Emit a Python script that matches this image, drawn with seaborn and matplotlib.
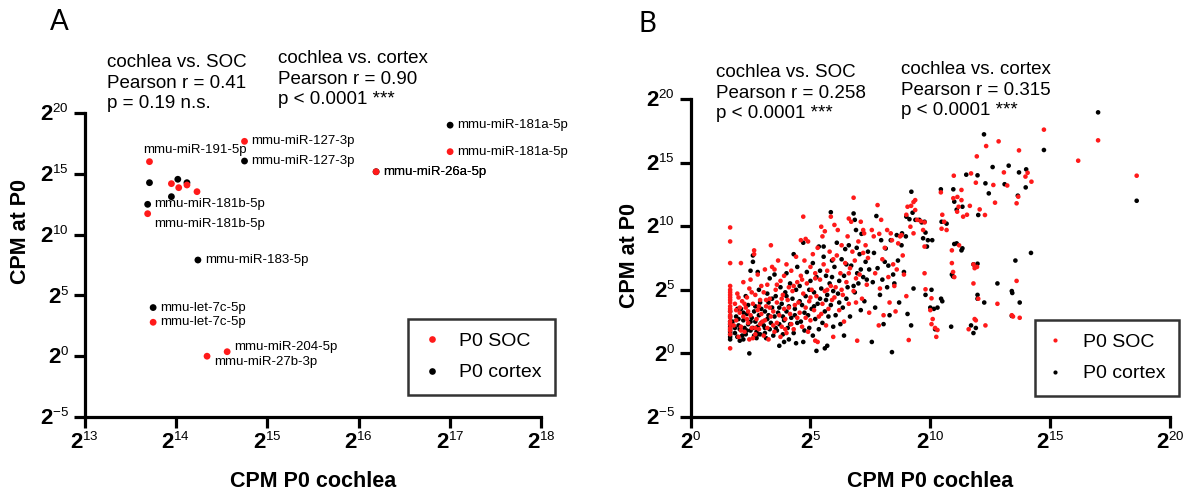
import pandas as pd
import seaborn as sns
import matplotlib.pyplot as plt
import matplotlib.ticker as mticker
from matplotlib.lines import Line2D

try:
    import matplotlib._mathtext as _mt
    _mt.SHRINK_FACTOR = 0.6   # smaller superscripts, like the original
except Exception:
    pass

# ---------------- panel A: selected miRNAs (log2 CPM) ----------------
a_soc_names = ['mmu-miR-181a-5p', 'mmu-miR-127-3p', 'mmu-miR-26a-5p', 'mmu-miR-191-5p',
               '', '', '', '', 'mmu-miR-181b-5p', 'mmu-let-7c-5p',
               'mmu-miR-204-5p', 'mmu-miR-27b-3p']
a_soc_cochlea = [17.0, 14.75, 16.19, 13.71, 13.95, 14.03, 14.12, 14.23, 13.69, 13.75, 14.56, 14.34]
a_soc_p0 = [16.82, 17.67, 15.17, 16.0, 14.19, 13.86, 14.08, 13.53, 11.72, 2.79, 0.37, 0.0]

a_cortex_names = ['mmu-miR-181a-5p', 'mmu-miR-127-3p', 'mmu-miR-26a-5p', '', '', '', '',
                  'mmu-miR-181b-5p', 'mmu-miR-183-5p', 'mmu-let-7c-5p']
a_cortex_cochlea = [17.0, 14.75, 16.19, 13.71, 14.02, 14.12, 13.95, 13.69, 14.24, 13.75]
a_cortex_p0 = [19.0, 16.05, 15.17, 14.27, 14.55, 14.27, 13.12, 12.49, 7.91, 4.0]

# ---------------- panel B: all miRNAs (log2 cochlea CPM, log2 P0 CPM) ----------------
b_soc = [
    (1.65, 9.9), (1.65, 8.8), (1.65, 7.1), (1.65, 5.3), (1.65, 5.0), (1.65, 4.8), (1.65, 4.6),
    (1.65, 4.4), (1.65, 4.2), (1.65, 4.0), (1.65, 3.7), (1.65, 3.5), (1.65, 3.3), (1.65, 3.0),
    (1.65, 2.8), (1.65, 2.5), (1.65, 2.3), (1.65, 2.0), (1.65, 1.8), (1.65, 1.5), (1.65, 0.4),
    (1.85, 3.9), (1.9, 2.6), (1.95, 4.7), (2.0, 1.3), (2.05, 3.2), (2.1, 7.1), (2.1, 2.1),
    (2.15, 4.1), (2.2, 5.6), (2.2, 2.9), (2.25, 1.7), (2.3, 3.6), (2.35, 4.4), (2.4, 2.4),
    (2.45, 1.1), (2.45, 5.1), (2.5, 3.0), (2.5, 5.8), (2.55, 2.0), (2.6, 3.9), (2.65, 8.1),
    (2.65, 7.8), (2.7, 1.5), (2.7, 4.6), (2.75, 2.7), (2.8, 3.4), (2.8, 6.2), (2.85, 1.9),
    (2.9, 4.2), (2.9, 2.3), (2.95, 5.3), (2.95, 3.1), (2.6, 1.2), (2.35, 2.7), (2.05, 3.6),
    (1.8, 2.2), (1.9, 3.4), (2.0, 4.4), (2.1, 1.8), (2.25, 3.9), (2.4, 3.3), (2.55, 4.8),
    (2.7, 2.0), (2.85, 3.7), (3.0, 2.5),
    (3.05, 1.4), (3.05, 4.8), (3.1, 2.6), (3.1, 6.6), (3.15, 3.7), (3.2, 2.0), (3.2, 5.4),
    (3.25, 1.1), (3.3, 4.3), (3.35, 2.9), (3.35, 8.5), (3.4, 6.8), (3.45, 3.3), (3.5, 1.7),
    (3.5, 6.6), (3.55, 5.0), (3.6, 2.4), (3.6, 4.0), (3.65, 7.3), (3.7, 3.0), (3.75, 5.7),
    (3.75, 1.3), (3.8, 2.1), (3.85, 4.6), (3.9, 3.5), (3.9, 6.1), (3.95, 2.7), (4.0, 7.0),
    (4.0, 1.6), (4.05, 4.2), (4.1, 5.2), (4.15, 3.1), (4.2, 2.3), (4.2, 6.5), (4.25, 4.9),
    (4.3, 1.9), (4.35, 3.8), (4.4, 7.6), (4.45, 5.6), (4.45, 2.8),
    (3.15, 4.2), (3.3, 3.6), (3.45, 2.2), (3.6, 5.4), (3.8, 4.3), (3.95, 1.9), (4.1, 3.6),
    (4.3, 5.3),
    (4.55, 3.2), (4.6, 6.1), (4.6, 8.9), (4.65, 2.1), (4.7, 10.75), (4.7, 4.7), (4.75, 7.3),
    (4.8, 9.0), (4.8, 3.6), (4.85, 5.5), (4.9, 1.7), (4.9, 8.8), (4.95, 4.1), (5.0, 6.8),
    (5.0, 2.6), (5.05, 5.0), (5.1, 7.8), (5.15, 3.4), (5.2, 6.3), (5.2, 1.0), (5.25, 4.5),
    (5.3, 8.3), (5.35, 2.9), (5.4, 5.8), (5.45, 9.96), (5.5, 9.2), (5.5, 3.9), (5.55, 7.0),
    (5.6, 4.9), (5.6, 9.6), (5.65, 2.2), (5.7, 6.5), (5.75, 3.5), (5.8, 8.0), (5.85, 10.75),
    (5.85, 5.3), (5.9, 4.2), (5.95, 7.4), (5.95, 1.3), (5.3, 0.9),
    (4.5, 4.0), (4.65, 5.8), (4.8, 2.8), (5.0, 4.4), (5.2, 5.9), (5.45, 3.1), (5.7, 5.0),
    (6.0, 10.1), (6.05, 5.2), (6.1, 7.7), (6.14, 9.7), (6.2, 3.4), (6.25, 6.3), (6.3, 8.5),
    (6.35, 4.6), (6.4, 2.5), (6.45, 7.1), (6.5, 5.6), (6.55, 9.2), (6.6, 10.6), (6.6, 3.9),
    (6.65, 6.7), (6.7, 10.35), (6.75, 8.0), (6.8, 12.24), (6.8, 4.9), (6.85, 7.3), (6.9, 5.9),
    (6.95, 1.0), (7.0, 8.8), (7.05, 6.2), (7.1, 10.35), (7.15, 4.3), (7.2, 9.7), (7.24, 9.44),
    (7.3, 8.5), (7.35, 5.4), (7.4, 7.5), (7.45, 3.2),
    (6.0, 4.4), (6.3, 5.0), (6.6, 6.3), (6.9, 4.0), (7.2, 7.9),
    (7.56, 9.7), (7.64, 9.2), (7.7, 6.3), (7.8, 11.66), (7.85, 2.2), (7.87, 9.4), (7.9, 5.1),
    (7.95, 10.5), (8.0, 7.4), (8.05, 3.0), (8.1, 8.3), (8.2, 9.7), (8.25, 6.0), (8.3, 4.0),
    (8.35, 9.44), (8.4, 8.9), (8.45, 7.0), (8.5, 5.3), (8.55, 3.3), (8.6, 6.6), (8.66, 8.65),
    (8.74, 9.2), (8.8, 9.3), (8.85, 7.7), (8.9, 6.2), (9.0, 10.9), (9.05, 11.53), (9.1, 1.05),
    (9.2, 11.6), (9.17, 9.96), (9.3, 11.9), (9.37, 12.05), (9.3, 9.44), (9.37, 11.27),
    (9.45, 10.5), (9.0, 4.5),
    (9.6, 10.4), (9.7, 9.7), (9.76, 10.3), (9.76, 8.4), (9.76, 6.3), (9.8, 5.04), (10.05, 4.33),
    (10.0, 3.4), (10.1, 2.7), (10.05, 2.3), (10.2, 2.0), (10.3, 1.84), (10.25, 1.3),
    (10.44, 12.66), (10.5, 10.9), (10.58, 10.35), (10.68, 9.7), (10.47, 9.8), (10.9, 7.1),
    (10.95, 6.4), (11.0, 6.0), (10.98, 13.97), (10.96, 12.2), (11.13, 12.3), (11.12, 11.14),
    (11.18, 11.53), (11.3, 12.85), (11.3, 12.05), (11.2, 8.5), (10.9, 8.1), (11.37, 10.75),
    (11.53, 10.9), (11.65, 11.6), (11.7, 14.15), (11.9, 13.42), (11.94, 15.49), (12.06, 11.32),
    (12.28, 10.88), (11.8, 7.0), (11.85, 6.7), (11.95, 6.8), (11.8, 5.5), (12.0, 4.3),
    (11.85, 2.7), (11.9, 2.6), (11.6, 1.9), (12.3, 2.2), (12.33, 16.3), (12.85, 16.67),
    (12.63, 13.24), (12.7, 11.85), (13.07, 14.23), (13.21, 13.2), (12.8, 3.9), (13.4, 3.0),
    (13.45, 2.9), (13.6, 5.7), (13.73, 2.8), (13.7, 15.96), (14.06, 14.2), (13.97, 13.9),
    (14.22, 13.5), (13.67, 12.32), (13.6, 11.8),
    (14.74, 17.59), (16.17, 15.15), (17.0, 16.75), (18.61, 13.97),
]
b_cortex = [
    (1.65, 3.3), (1.65, 2.9), (1.65, 2.5), (1.65, 2.3), (1.65, 2.1), (1.65, 1.9), (1.65, 1.7),
    (1.65, 1.5), (1.65, 1.3), (1.65, 1.1),
    (1.85, 1.6), (1.9, 2.9), (1.95, 1.3), (2.0, 2.2), (2.05, 1.9), (2.1, 3.5), (2.15, 1.4),
    (2.2, 2.6), (2.25, 2.0), (2.3, 1.5), (2.3, 4.5), (2.35, 3.1), (2.4, 2.3), (2.45, 0.0),
    (2.5, 1.8), (2.5, 6.5), (2.55, 2.8), (2.6, 7.7), (2.6, 7.2), (2.65, 1.4), (2.7, 2.5),
    (2.7, 3.7), (2.75, 1.7), (2.8, 6.4), (2.8, 2.1), (2.85, 3.0), (2.9, 1.5), (2.9, 4.0),
    (2.95, 2.4), (2.2, 1.1), (2.4, 3.8), (2.6, 2.0), (2.75, 1.2), (2.0, 2.7), (2.85, 5.0),
    (1.75, 2.5), (1.85, 2.0), (1.95, 3.5), (2.05, 1.0), (2.2, 3.2), (2.35, 1.8), (2.5, 2.5),
    (2.65, 3.3), (2.8, 1.5), (2.95, 3.5),
    (3.05, 2.2), (3.1, 1.6), (3.1, 3.3), (3.15, 1.2), (3.2, 2.7), (3.25, 4.0), (3.3, 1.9),
    (3.3, 5.9), (3.35, 2.4), (3.4, 3.6), (3.45, 1.4), (3.5, 2.9), (3.55, 4.5), (3.6, 1.8),
    (3.65, 3.2), (3.7, 0.6), (3.7, 2.3), (3.75, 5.2), (3.8, 3.9), (3.85, 1.5), (3.9, 2.6),
    (3.95, 4.8), (4.0, 3.3), (4.0, 6.3), (4.05, 2.0), (4.1, 1.1), (4.1, 3.7), (4.15, 5.5),
    (4.2, 2.8), (4.25, 4.3), (4.3, 7.8), (4.3, 1.6), (4.35, 3.0), (4.4, 5.0), (4.4, 0.8),
    (4.45, 2.4), (4.45, 6.8), (3.5, 6.2), (3.9, 0.9), (3.2, 4.7),
    (3.1, 2.0), (3.25, 3.0), (3.4, 4.3), (3.55, 2.0), (3.7, 3.6), (3.85, 2.9), (4.0, 4.5),
    (4.15, 2.3), (4.35, 3.5),
    (4.55, 5.3), (4.6, 2.5), (4.65, 3.8), (4.7, 8.7), (4.75, 1.8), (4.8, 4.5), (4.85, 6.4),
    (4.9, 3.0), (4.95, 2.0), (5.0, 5.7), (5.05, 3.5), (5.1, 7.1), (5.1, 1.4), (5.15, 4.8),
    (5.2, 2.7), (5.25, 6.0), (5.3, 3.9), (5.35, 8.4), (5.35, 1.9), (5.4, 4.3), (5.45, 5.1),
    (5.5, 2.4), (5.55, 7.6), (5.55, 8.4), (5.6, 3.3), (5.65, 6.1), (5.7, 4.6), (5.7, 0.6),
    (5.75, 2.9), (5.8, 5.5), (5.85, 11.1), (5.85, 3.8), (5.9, 7.3), (5.95, 4.9), (5.95, 2.1),
    (5.25, 0.2), (5.6, 0.4), (4.7, 0.9),
    (4.55, 4.1), (4.75, 3.2), (4.95, 5.0), (5.15, 3.7), (5.4, 6.5), (5.65, 4.2), (5.9, 6.0),
    (6.0, 6.8), (6.05, 3.0), (6.1, 8.7), (6.15, 4.7), (6.2, 5.7), (6.25, 2.3), (6.3, 7.4),
    (6.35, 3.6), (6.4, 6.1), (6.45, 8.2), (6.5, 4.3), (6.55, 5.2), (6.6, 8.5), (6.65, 2.9),
    (6.7, 6.9), (6.8, 11.0), (6.85, 10.5), (6.85, 4.8), (6.9, 9.7), (6.93, 8.3), (6.95, 6.3),
    (7.0, 5.5), (7.05, 7.8), (7.1, 3.4), (7.13, 9.4), (7.2, 6.0), (7.25, 4.1), (7.3, 7.2),
    (7.35, 5.8), (7.4, 8.0), (7.45, 6.6), (6.4, 1.4),
    (6.2, 4.0), (6.5, 7.0), (6.8, 5.3), (7.1, 6.6),
    (7.56, 0.9), (7.6, 5.6), (7.65, 7.9), (7.7, 3.6), (7.75, 10.8), (7.8, 6.7), (7.9, 4.6),
    (7.95, 8.9), (8.0, 5.8), (8.05, 2.3), (8.1, 7.2), (8.14, 8.25), (8.2, 5.2), (8.25, 6.9),
    (8.3, 3.0), (8.35, 8.9), (8.4, 0.1), (8.45, 6.2), (8.5, 5.5), (8.6, 9.3), (8.65, 7.3),
    (8.7, 4.0), (8.8, 8.5), (8.82, 9.44), (8.9, 6.4), (8.98, 9.2), (9.0, 10.75), (9.05, 3.1),
    (9.13, 10.55), (9.2, 2.2), (9.21, 12.71), (9.26, 11.06), (9.3, 5.1), (9.38, 10.5),
    (9.54, 10.5), (9.64, 10.3), (9.76, 10.35), (9.8, 9.5), (9.7, 9.05), (9.9, 8.9),
    (10.08, 8.9), (9.86, 8.4), (9.8, 4.6), (10.05, 5.0), (10.0, 3.6), (10.15, 3.5),
    (10.3, 3.6), (10.45, 4.3), (10.5, 4.1), (10.2, 1.9), (10.44, 12.9), (10.47, 10.35),
    (10.68, 10.2), (10.9, 6.2), (10.95, 6.05), (10.87, 2.1), (10.96, 12.9), (11.0, 11.93),
    (11.1, 11.3), (11.34, 11.53), (11.1, 8.65), (11.34, 8.26), (11.0, 8.6), (11.3, 8.1),
    (11.5, 14.05), (11.97, 14.0), (12.0, 10.88), (11.8, 7.0), (11.97, 7.05), (11.97, 4.6),
    (11.97, 4.3), (12.25, 4.0), (11.7, 2.2), (11.9, 2.0), (11.8, 1.6), (12.24, 17.22),
    (12.3, 13.37), (12.44, 12.58), (12.6, 14.65), (13.27, 14.76), (13.1, 13.3), (12.8, 5.5),
    (13.4, 4.9), (13.42, 4.75), (13.4, 2.95), (13.55, 7.3), (13.73, 4.0), (13.7, 14.23),
    (14.0, 14.47), (13.98, 13.05), (13.65, 12.4), (14.2, 7.9),
    (14.74, 15.99), (17.0, 18.95), (18.61, 12.0),
]

a_stats = [('cochlea vs. SOC', 'Pearson r = 0.41', 'p = 0.19 n.s.'),
           ('cochlea vs. cortex', 'Pearson r = 0.90', 'p < 0.0001 ***')]
b_stats = [('cochlea vs. SOC', 'Pearson r = 0.258', 'p < 0.0001 ***'),
           ('cochlea vs. cortex', 'Pearson r = 0.315', 'p < 0.0001 ***')]
tissues = ['P0 SOC', 'P0 cortex']

RED = '#ff1a1a'
palette = {'P0 SOC': RED, 'P0 cortex': 'black'}

sns.set_style('ticks')
plt.rcParams['font.family'] = ['Liberation Sans', 'DejaVu Sans']
plt.rcParams['mathtext.fontset'] = 'custom'
plt.rcParams['mathtext.rm'] = 'Liberation Sans'
plt.rcParams['mathtext.bf'] = 'Liberation Sans:bold'
plt.rcParams['mathtext.default'] = 'regular'
for key in ['text.color', 'axes.labelcolor', 'xtick.color', 'ytick.color', 'axes.edgecolor']:
    plt.rcParams[key] = 'black'

W, H = 1188, 495
fig = plt.figure(figsize=(W / 100, H / 100), dpi=100)
axA = fig.add_axes([84.6 / W, 78 / H, 456.9 / W, 304 / H])
axB = fig.add_axes([690.6 / W, 78 / H, 479.4 / W, 318 / H])


def pow2(e):
    return r'$\mathbf{2}^{%d}$' % e


def style_axes(ax, xexp, yexp):
    ax.set_xscale('log', base=2)
    ax.set_yscale('log', base=2)
    ax.set_xlim(2.0 ** xexp[0], 2.0 ** xexp[-1])
    ax.set_ylim(2.0 ** yexp[0], 2.0 ** yexp[-1])
    ax.set_xticks([2.0 ** e for e in xexp], [pow2(e) for e in xexp])
    ax.set_yticks([2.0 ** e for e in yexp], [pow2(e) for e in yexp])
    ax.xaxis.set_minor_locator(mticker.NullLocator())
    ax.yaxis.set_minor_locator(mticker.NullLocator())
    for s in ['top', 'right']:
        ax.spines[s].set_visible(False)
    for s in ['left', 'bottom']:
        ax.spines[s].set_linewidth(2.3)
    ax.tick_params(length=8, width=2.3, pad=3, labelsize=16, color='black')
    ax.grid(False)


def make_df(cochlea, p0, tissue):
    return pd.DataFrame({'cochlea': [2.0 ** v for v in cochlea],
                         'p0': [2.0 ** v for v in p0],
                         'tissue': tissue})


def add_legend(ax, left_px, top_px, ms, hl, htp):
    handles = [Line2D([], [], ls='none', marker='o', ms=ms, mfc=palette[t], mec='none')
               for t in tissues]
    leg = ax.legend(handles, tissues, loc='upper left',
                    bbox_to_anchor=(left_px / W, 1 - top_px / H), bbox_transform=fig.transFigure,
                    frameon=True, fancybox=False, edgecolor='black', fontsize=14,
                    borderpad=0.7, labelspacing=0.7, handlelength=hl, handletextpad=htp,
                    borderaxespad=0)
    leg.get_frame().set_linewidth(1.8)


def add_stats(blocks, lefts, centers):
    for lines, x, y in zip(blocks, lefts, centers):
        fig.text(x / W, 1 - y / H, '\n'.join(lines), fontsize=13.5, ha='left', va='center',
                 linespacing=1.3)


# ---------------- panel A ----------------
style_axes(axA, list(range(13, 19)), list(range(-5, 21, 5)))
dfA = pd.concat([make_df(a_cortex_cochlea, a_cortex_p0, 'P0 cortex'),
                 make_df(a_soc_cochlea, a_soc_p0, 'P0 SOC')], ignore_index=True)
sns.scatterplot(data=dfA, x='cochlea', y='p0', hue='tissue', palette=palette, s=24,
                linewidth=0, legend=False, ax=axA, clip_on=False)

special = {'mmu-miR-191-5p': (-4.5, 8.5), 'mmu-miR-204-5p': (5, 3.5),
           'mmu-miR-27b-3p': (5, -4.5)}
for names, xs, ys, tissue in [(a_cortex_names, a_cortex_cochlea, a_cortex_p0, 'P0 cortex'),
                              (a_soc_names, a_soc_cochlea, a_soc_p0, 'P0 SOC')]:
    for n, x, y in zip(names, xs, ys):
        if not n:
            continue
        off = special.get(n, (5, 0))
        if n == 'mmu-miR-181b-5p' and tissue == 'P0 SOC':
            off = (5, -7.5)
        axA.annotate(n, (2.0 ** x, 2.0 ** y), xytext=off, textcoords='offset points',
                     fontsize=9.5, ha='left', va='center')

axA.set_xlabel('CPM P0 cochlea', fontsize=15.5, fontweight='bold')
axA.set_ylabel('CPM at P0', fontsize=15.5, fontweight='bold')
axA.xaxis.set_label_coords(0.5, -0.178)
axA.yaxis.set_label_coords(-0.117, 0.609)
add_legend(axA, 408, 319, 4.8, 1.1, 0.8)
add_stats(a_stats, [107, 278], [83, 79])

# ---------------- panel B ----------------
style_axes(axB, list(range(0, 21, 5)), list(range(-5, 21, 5)))
dfB = pd.concat([make_df([p[0] for p in b_cortex], [p[1] for p in b_cortex], 'P0 cortex'),
                 make_df([p[0] for p in b_soc], [p[1] for p in b_soc], 'P0 SOC')],
                ignore_index=True)
sns.scatterplot(data=dfB, x='cochlea', y='p0', hue='tissue', palette=palette, s=11,
                linewidth=0, legend=False, ax=axB, clip_on=False)
axB.set_xlabel('CPM P0 cochlea', fontsize=15.5, fontweight='bold')
axB.set_ylabel('CPM at P0', fontsize=15.5, fontweight='bold')
axB.xaxis.set_label_coords(0.5, -0.170)
axB.yaxis.set_label_coords(-0.106, 0.509)
add_legend(axB, 1035, 320, 3.0, 0.7, 1.05)
add_stats(b_stats, [716, 901], [93, 90])

fig.text(50 / W, 1 - 22.5 / H, 'A', fontsize=20, family='Lato', ha='left', va='center')
fig.text(638 / W, 1 - 24 / H, 'B', fontsize=20, family='Lato', ha='left', va='center')

fig.savefig('out.png', dpi=100)
